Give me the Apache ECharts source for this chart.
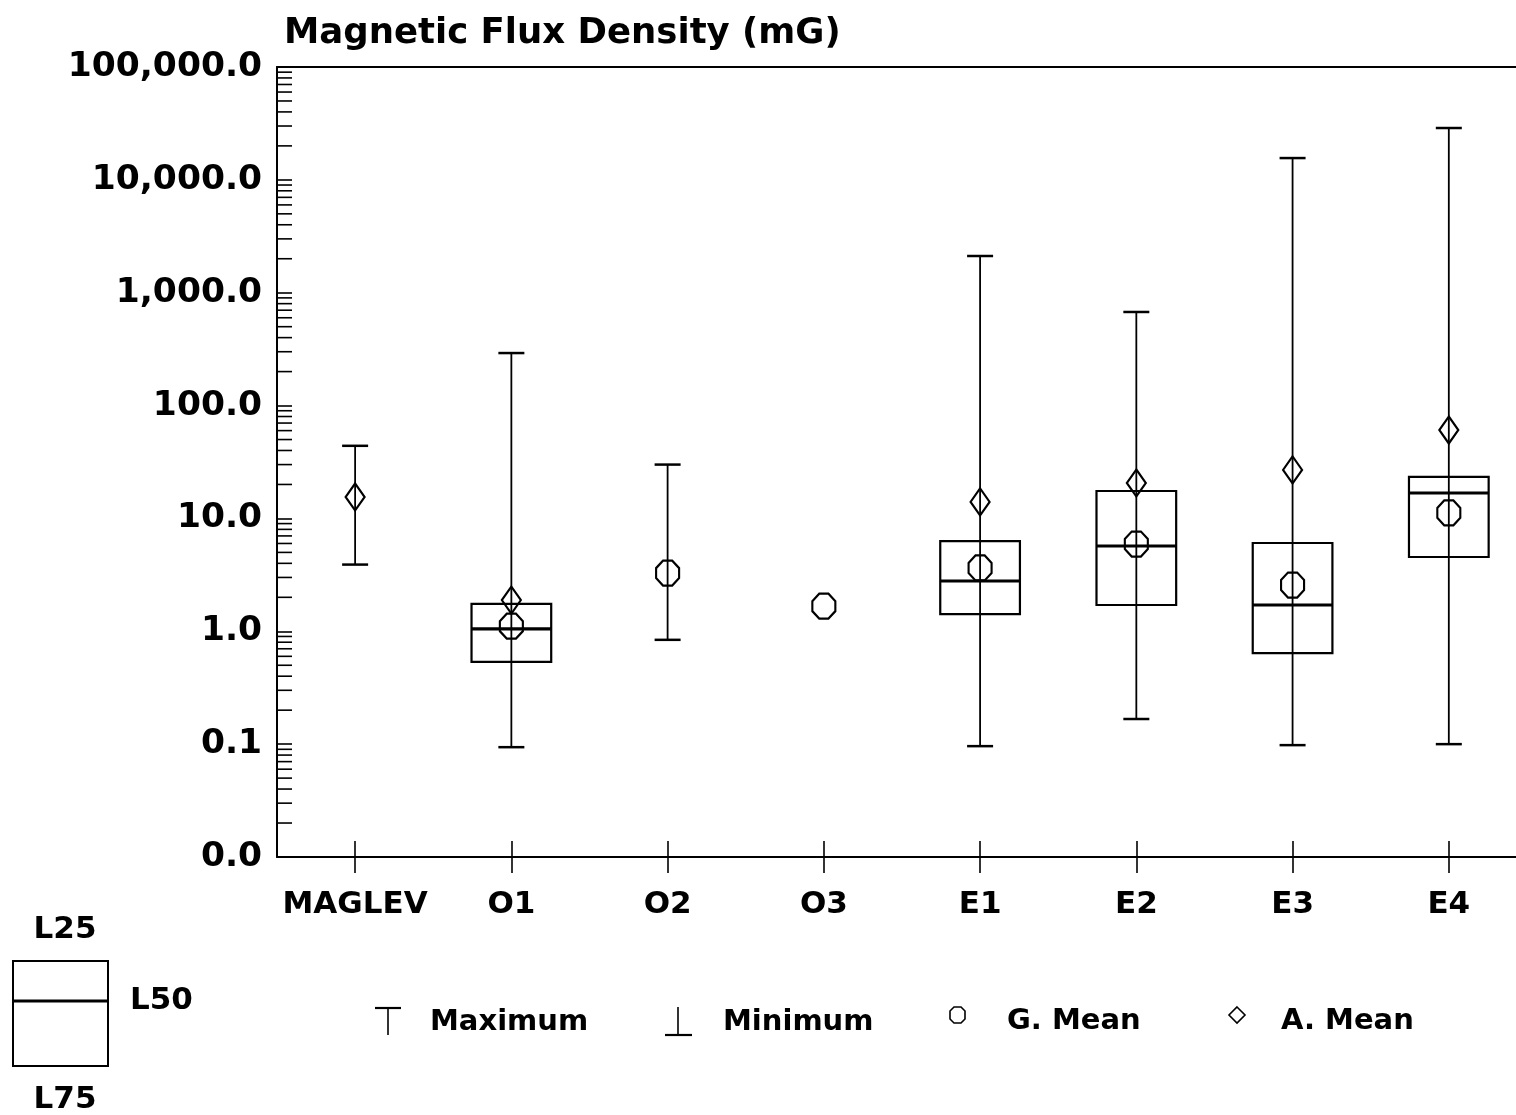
<!DOCTYPE html>
<html><head><meta charset="utf-8">
<script src="https://cdn.jsdelivr.net/npm/echarts@6/dist/echarts.min.js"></script>
<style>html,body{margin:0;padding:0;background:#fff}#c{width:1516px;height:1115px}</style>
</head><body><div id="c"></div>
<script>
// ---- data (mG) ----
const categories   = ['MAGLEV', 'O1', 'O2', 'O3', 'E1', 'E2', 'E3', 'E4'];
const maxValues    = [44, 292, 30, null, 2115, 675, 15600, 28800];
const minValues    = [3.9, 0.094, 0.84, null, 0.096, 0.167, 0.098, 0.1];
const l25Values    = [null, 1.75, null, null, 6.3, 17.5, 6.06, 23.3];   // upper box edge
const l50Values    = [null, 1.05, null, null, 2.79, 5.7, 1.71, 16.8];   // median
const l75Values    = [null, 0.535, null, null, 1.42, 1.71, 0.64, 4.55]; // lower box edge
const gMeanValues  = [null, 1.11, 3.28, 1.67, 3.64, 5.93, 2.57, 11.2];
const aMeanValues  = [15.5, 1.89, null, null, 14.0, 20.6, 26.9, 60.7];
const yDecades     = [0.01, 0.1, 1, 10, 100, 1000, 10000];
const minorSteps   = [2, 3, 4, 5, 6, 7, 8, 9];

const FONT = 'DejaVu Sans';
const BLACK = '#000';
const catIdx = categories.map((c, i) => i);

const whiskerData = [], boxData = [], gData = [], aData = [];
categories.forEach((c, i) => {
  if (minValues[i] != null && maxValues[i] != null) whiskerData.push([i, minValues[i], maxValues[i]]);
  if (l25Values[i] != null) boxData.push([i, l25Values[i], l50Values[i], l75Values[i]]);
  if (gMeanValues[i] != null) gData.push([i, gMeanValues[i]]);
  if (aMeanValues[i] != null) aData.push([i, aMeanValues[i]]);
});
const minorTickData = [];
yDecades.forEach(d => minorSteps.forEach(s => minorTickData.push([0, d * s])));

function fmtY(v) {
  if (v < 0.05) return '0.0';
  return Number(v).toLocaleString('en-US', {minimumFractionDigits: 1, maximumFractionDigits: 1});
}

const chart = echarts.init(document.getElementById('c'), null, {renderer: 'canvas'});
const octagon = 'path://M30,0 L70,0 L100,30 L100,70 L70,100 L30,100 L0,70 L0,30 Z';
const XMIN = -0.5, XMAX = 7.43;

chart.setOption({
  backgroundColor: '#fff',
  animation: false,
  title: {
    text: 'Magnetic Flux Density (mG)',
    left: 279, top: 11,
    textStyle: {fontFamily: FONT, fontWeight: 'bold', fontSize: 35.5, color: BLACK}
  },
  grid: {left: 277, top: 67, right: 0, bottom: 258, containLabel: false, outerBoundsMode: 'none'},
  xAxis: [
    {
      type: 'value', min: XMIN, max: XMAX, position: 'bottom',
      axisLine: {show: true, onZero: false, lineStyle: {color: BLACK, width: 2}},
      axisTick: {show: true, inside: false, length: 16, customValues: catIdx, lineStyle: {color: BLACK, width: 1.6}},
      axisLabel: {fontFamily: FONT, fontWeight: 'bold', fontSize: 31, color: BLACK, margin: 32,
                  customValues: catIdx, formatter: v => categories[Math.round(v)]},
      splitLine: {show: false}
    },
    {
      type: 'value', min: XMIN, max: XMAX, position: 'bottom',
      axisLine: {show: false, onZero: false},
      axisTick: {show: true, inside: true, length: 16, customValues: catIdx, lineStyle: {color: BLACK, width: 1.6}},
      axisLabel: {show: false}, splitLine: {show: false}
    },
    {
      type: 'value', min: XMIN, max: XMAX, position: 'top',
      axisLine: {show: true, onZero: false, lineStyle: {color: BLACK, width: 2}},
      axisTick: {show: false}, axisLabel: {show: false}, splitLine: {show: false}
    }
  ],
  yAxis: {
    type: 'log', logBase: 10, min: 0.01, max: 100000, interval: 1, splitNumber: 7, position: 'left',
    axisLine: {show: true, onZero: false, lineStyle: {color: BLACK, width: 2}},
    axisTick: {show: true, inside: true, length: 15, lineStyle: {color: BLACK, width: 1.6}},
    axisLabel: {fontFamily: FONT, fontWeight: 'bold', fontSize: 34.5, color: BLACK, margin: 15, formatter: fmtY},
    splitLine: {show: false}
  },
  series: [
    {
      type: 'custom', name: 'minorTicks', silent: true, clip: false,
      data: minorTickData,
      renderItem: (params, api) => {
        const y = api.coord([0, api.value(1)])[1];
        const x0 = params.coordSys.x;
        return {type: 'line', shape: {x1: x0, y1: y, x2: x0 + 15, y2: y},
                style: {stroke: BLACK, lineWidth: 1.6}};
      }
    },
    {
      type: 'custom', name: 'Whiskers', silent: true,
      data: whiskerData,
      renderItem: (params, api) => {
        const i = api.value(0);
        const lo = api.coord([i, api.value(1)]);
        const hi = api.coord([i, api.value(2)]);
        const cap = 13;
        return {type: 'group', children: [
          {type: 'line', shape: {x1: lo[0], y1: lo[1], x2: hi[0], y2: hi[1]}, style: {stroke: BLACK, lineWidth: 1.8}},
          {type: 'line', shape: {x1: hi[0] - cap, y1: hi[1], x2: hi[0] + cap, y2: hi[1]}, style: {stroke: BLACK, lineWidth: 2.5}},
          {type: 'line', shape: {x1: lo[0] - cap, y1: lo[1], x2: lo[0] + cap, y2: lo[1]}, style: {stroke: BLACK, lineWidth: 2.5}}
        ]};
      }
    },
    {
      type: 'custom', name: 'Boxes', silent: true,
      data: boxData,
      renderItem: (params, api) => {
        const i = api.value(0);
        const top = api.coord([i, api.value(1)]);
        const med = api.coord([i, api.value(2)]);
        const bot = api.coord([i, api.value(3)]);
        const w = api.size([1, 0])[0] * 0.51;
        return {type: 'group', children: [
          {type: 'rect', shape: {x: top[0] - w / 2, y: top[1], width: w, height: bot[1] - top[1]},
           style: {fill: 'none', stroke: BLACK, lineWidth: 2.2}},
          {type: 'line', shape: {x1: med[0] - w / 2, y1: med[1], x2: med[0] + w / 2, y2: med[1]},
           style: {stroke: BLACK, lineWidth: 3.2}}
        ]};
      }
    },
    {
      type: 'scatter', name: 'G. Mean', data: gData, symbol: octagon, symbolSize: [23, 25],
      itemStyle: {color: 'rgba(0,0,0,0)', borderColor: BLACK, borderWidth: 2.2, opacity: 1}, z: 5
    },
    {
      type: 'scatter', name: 'A. Mean', data: aData, symbol: 'diamond', symbolSize: [19, 27],
      itemStyle: {color: 'rgba(0,0,0,0)', borderColor: BLACK, borderWidth: 2.2, opacity: 1}, z: 5
    }
  ],
  graphic: [
    // box key
    {type: 'rect', shape: {x: 13, y: 961, width: 95, height: 105}, style: {fill: 'none', stroke: BLACK, lineWidth: 2}},
    {type: 'line', shape: {x1: 13, y1: 1001, x2: 108, y2: 1001}, style: {stroke: BLACK, lineWidth: 3}},
    {type: 'text', x: 65, y: 930, style: {text: 'L25', font: 'bold 31px "DejaVu Sans"', fill: BLACK, textAlign: 'center', textVerticalAlign: 'middle'}},
    {type: 'text', x: 130, y: 1001, style: {text: 'L50', font: 'bold 31px "DejaVu Sans"', fill: BLACK, textAlign: 'left', textVerticalAlign: 'middle'}},
    {type: 'text', x: 65, y: 1100, style: {text: 'L75', font: 'bold 31px "DejaVu Sans"', fill: BLACK, textAlign: 'center', textVerticalAlign: 'middle'}},
    // Maximum
    {type: 'line', shape: {x1: 375, y1: 1008, x2: 401, y2: 1008}, style: {stroke: BLACK, lineWidth: 2.2}},
    {type: 'line', shape: {x1: 388, y1: 1008, x2: 388, y2: 1035}, style: {stroke: BLACK, lineWidth: 1.6}},
    {type: 'text', x: 430, y: 1022, style: {text: 'Maximum', font: 'bold 29px "DejaVu Sans"', fill: BLACK, textAlign: 'left', textVerticalAlign: 'middle'}},
    // Minimum
    {type: 'line', shape: {x1: 678, y1: 1007, x2: 678, y2: 1035}, style: {stroke: BLACK, lineWidth: 1.6}},
    {type: 'line', shape: {x1: 665, y1: 1035, x2: 692, y2: 1035}, style: {stroke: BLACK, lineWidth: 2.2}},
    {type: 'text', x: 723, y: 1022, style: {text: 'Minimum', font: 'bold 29px "DejaVu Sans"', fill: BLACK, textAlign: 'left', textVerticalAlign: 'middle'}},
    // G. Mean
    {type: 'polygon', shape: {points: [[954,1007],[961,1007],[965,1011],[965,1019],[961,1023],[954,1023],[950,1019],[950,1011]]},
     style: {fill: 'none', stroke: BLACK, lineWidth: 1.6}},
    {type: 'text', x: 1007, y: 1021, style: {text: 'G. Mean', font: 'bold 29px "DejaVu Sans"', fill: BLACK, textAlign: 'left', textVerticalAlign: 'middle'}},
    // A. Mean
    {type: 'polygon', shape: {points: [[1237,1007],[1245,1015],[1237,1023],[1229,1015]]},
     style: {fill: 'none', stroke: BLACK, lineWidth: 1.6}},
    {type: 'text', x: 1281, y: 1021, style: {text: 'A. Mean', font: 'bold 29px "DejaVu Sans"', fill: BLACK, textAlign: 'left', textVerticalAlign: 'middle'}}
  ]
});
</script>
</body></html>
